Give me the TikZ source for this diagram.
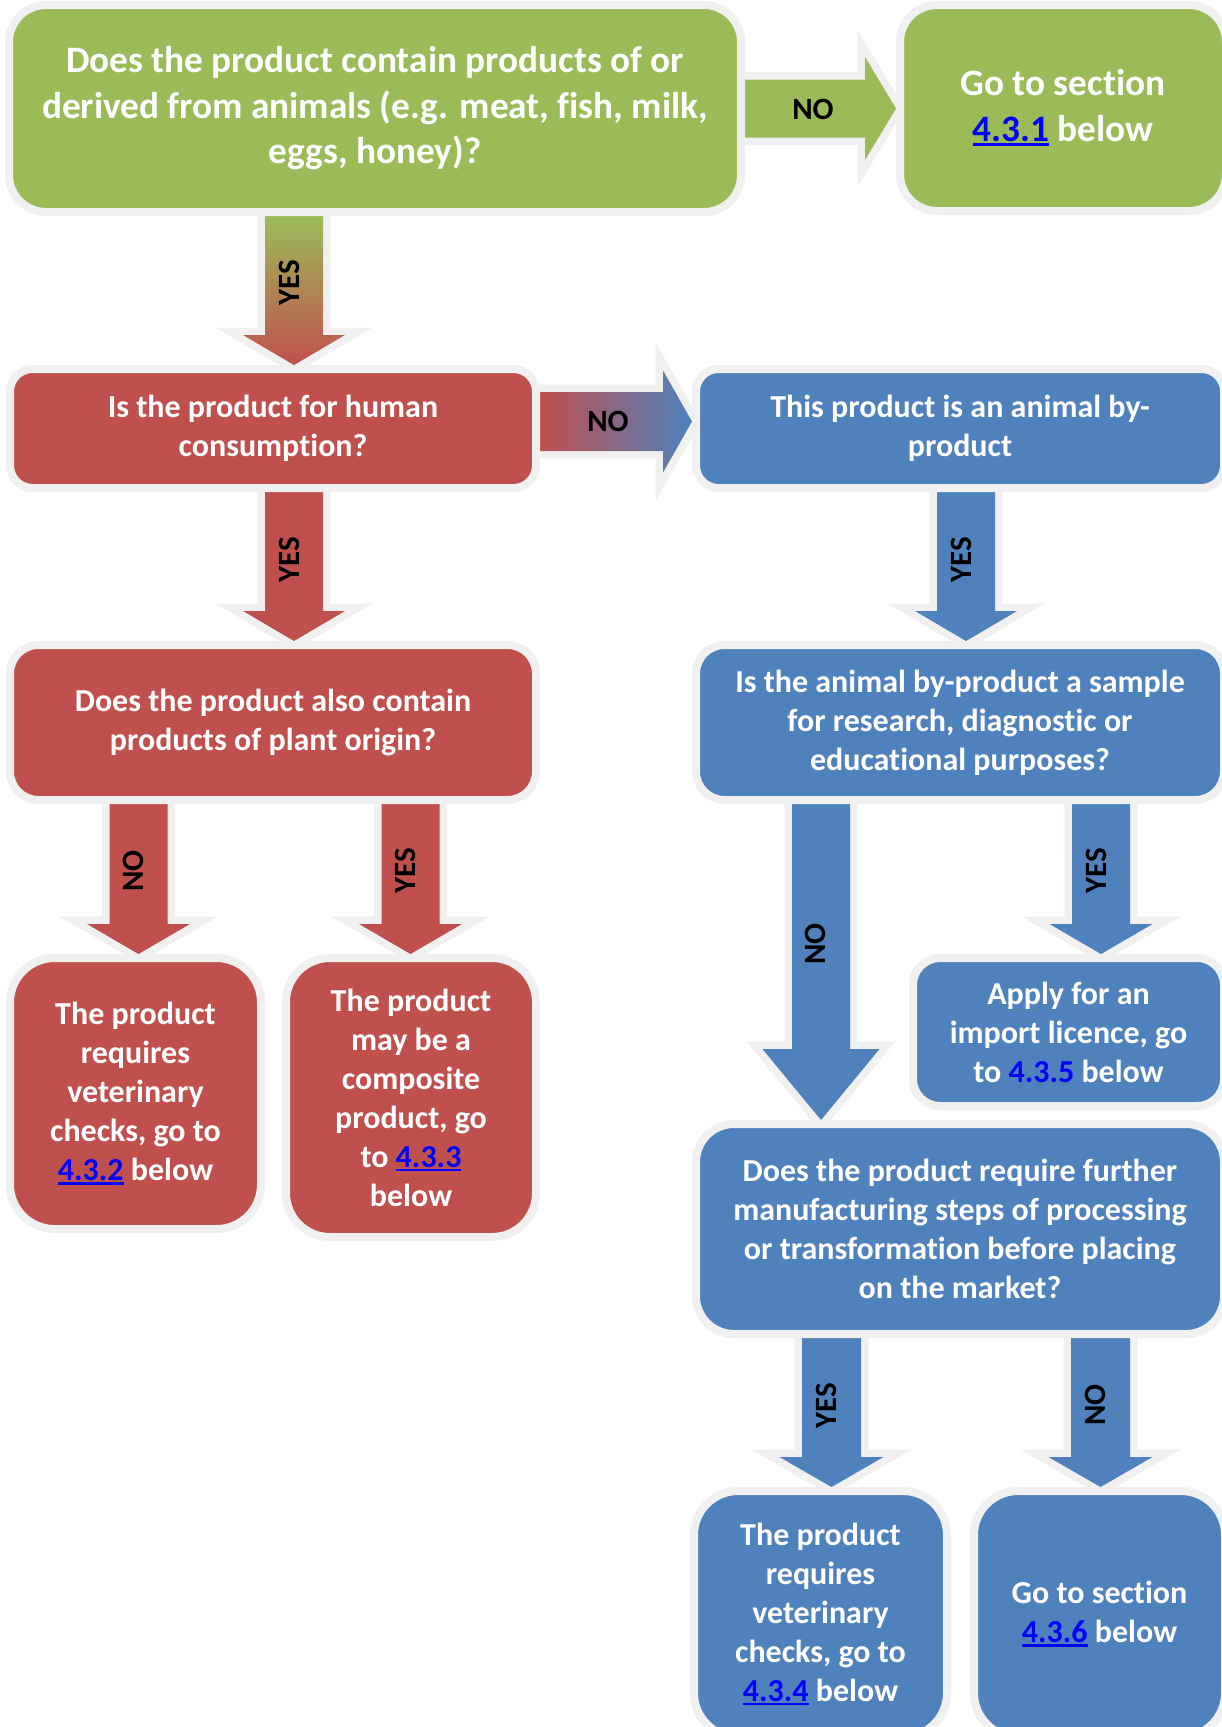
\documentclass[tikz,border=0pt]{standalone}
\usepackage{fontspec}
\setmainfont{Carlito}[Ligatures=NoCommon]
\usetikzlibrary{calc}
\definecolor{agreen}{HTML}{9BBB59}
\definecolor{ared}{HTML}{C0504D}
\definecolor{ablue}{HTML}{4F81BD}
\definecolor{halo}{HTML}{F0F0F0}
\definecolor{linkblue}{HTML}{0000FF}
\newcommand\lnk[1]{{\color{linkblue}\setbox0=\hbox{#1}\rlap{\rule[-0.13em]{\wd0}{0.08em}}\box0}}
\newcommand\bapaint[2]{\path[draw=halo,line width=15pt,line join=miter] #2; \path[#1] #2;}
\newcommand\blockarrow[6]{%
  \coordinate (bas) at (#2);
  \coordinate (bat) at (#3);
  \coordinate (babase) at ($(bat)!#6!(bas)$);
  \bapaint{#1}{($(bas)!#4!90:(bat)$) -- ($(babase)!#4!90:(bat)$) -- ($(babase)!#5!90:(bat)$) -- (bat) -- ($(babase)!#5!-90:(bat)$) -- ($(babase)!#4!-90:(bat)$) -- ($(bas)!#4!-90:(bat)$) -- cycle}}
\pgfdeclarelayer{bg}
\pgfsetlayers{bg,main}
\tikzset{
  box/.style={draw=halo, line width=8pt, align=center, text=white, inner sep=0pt,
    font=\bfseries\fontsize{32}{39}\selectfont},
  gbox/.style={box, fill=agreen, font=\bfseries\fontsize{37.3}{45.5}\selectfont},
  rbox/.style={box, fill=ared},
  bbox/.style={box, fill=ablue},
  lab/.style={font=\bfseries\fontsize{31}{36}\selectfont, text=black, inner sep=0pt},
  vlab/.style={lab, rotate=90}
}
\begin{document}
\begin{tikzpicture}[x=1pt,y=-1pt]
\useasboundingbox (0,0) rectangle (1222,1727);
\clip (0,0) rectangle (1222,1727);

% boxes
\node[gbox, minimum width=732pt, minimum height=207pt, rounded corners=37pt] (q1) at (375,108.5)
  {Does the product contain products of or\\derived from animals (e.g. meat, fish, milk,\\eggs, honey)?};
\node[gbox, minimum width=326pt, minimum height=206pt, rounded corners=37pt] (g431) at (1063,108)
  {Go to section\\\lnk{4.3.1} below};
\node[rbox, minimum width=526pt, minimum height=119pt, rounded corners=22.5pt] (q2) at (273,428.5)
  {Is the product for human\\consumption?};
\node[bbox, minimum width=528pt, minimum height=119pt, rounded corners=22.5pt] (bp) at (960,428.5)
  {This product is an animal by-\\product};
\node[rbox, minimum width=526pt, minimum height=155pt, rounded corners=28.5pt] (q3) at (273,722.5)
  {Does the product also contain\\products of plant origin?};
\node[bbox, minimum width=528pt, minimum height=155pt, rounded corners=28.5pt] (q4) at (960,722.5)
  {Is the animal by-product a sample\\for research, diagnostic or\\educational purposes?};
\node[rbox, minimum width=251pt, minimum height=271pt, rounded corners=44.5pt] (r7) at (135.5,1093.5)
  {The product\\requires\\veterinary\\checks, go to\\\lnk{4.3.2} below};
\node[rbox, minimum width=250pt, minimum height=279pt, rounded corners=44pt] (r8) at (411,1097.5)
  {The product\\may be a\\composite\\product, go\\to \lnk{4.3.3}\\below};
\node[bbox, minimum width=311pt, minimum height=148pt, rounded corners=27pt] (b9) at (1068.5,1032)
  {Apply for an\\import licence, go\\to \textcolor{linkblue}{4.3.5} below};
\node[bbox, minimum width=528pt, minimum height=210pt, rounded corners=38pt] (q5) at (960,1229)
  {Does the product require further\\manufacturing steps of processing\\or transformation before placing\\on the market?};
\node[bbox, minimum width=253pt, minimum height=246pt, rounded corners=44pt] (b11) at (820.5,1614)
  {The product\\requires\\veterinary\\checks, go to\\\lnk{4.3.4} below};
\node[bbox, minimum width=251pt, minimum height=246pt, rounded corners=44pt] (b12) at (1099.5,1614)
  {Go to section\\\lnk{4.3.6} below};

% block arrows
\begin{pgfonlayer}{bg}
\fill[white] (0,0) rectangle (1222,1727);
\blockarrow{fill=agreen}{q1.east}{q1.east -| g431.west}{29pt}{51.5pt}{31pt}
\blockarrow{top color=agreen,bottom color=ared}{294,0 |- q1.south}{294,0 |- q2.north}{29pt}{51pt}{30pt}
\blockarrow{left color=ared,right color=ablue}{q2.east |- 0,421.5}{bp.west |- 0,421.5}{29.5pt}{51pt}{29pt}
\blockarrow{fill=ared}{294,0 |- q2.south}{294,0 |- q3.north}{29pt}{51pt}{30pt}
\blockarrow{fill=ablue}{966,0 |- bp.south}{966,0 |- q4.north}{29pt}{51pt}{30pt}
\blockarrow{fill=ared}{138.5,0 |- q3.south}{138.5,0 |- r7.north}{29pt}{51.5pt}{30pt}
\blockarrow{fill=ared}{410.5,0 |- q3.south}{410.5,0 |- r8.north}{29pt}{51.5pt}{30pt}
\blockarrow{fill=ablue}{1101,0 |- q4.south}{1101,0 |- b9.north}{29pt}{51.5pt}{30pt}
\blockarrow{fill=ablue}{821,0 |- q4.south}{821,0 |- q5.north}{29pt}{58.5pt}{71pt}
\blockarrow{fill=ablue}{831.5,0 |- q5.south}{831.5,0 |- b11.north}{29.5pt}{52pt}{30pt}
\blockarrow{fill=ablue}{1100.5,0 |- q5.south}{1100.5,0 |- b12.north}{29.5pt}{52pt}{30pt}
\end{pgfonlayer}

% labels
\node[lab] (l0) at (813,109) {NO};
\node[vlab] (l1) at (289,283) {YES};
\node[lab] (l2) at (608,421.5) {NO};
\node[vlab] (l3) at (289,560) {YES};
\node[vlab] (l4) at (961,560) {YES};
\node[vlab] (l5) at (133.5,871) {NO};
\node[vlab] (l6) at (405.5,871) {YES};
\node[vlab] (l7) at (1096,871) {YES};
\node[vlab] (l8) at (815,944) {NO};
\node[vlab] (l9) at (826.5,1406) {YES};
\node[vlab] (l10) at (1095.5,1405) {NO};
\end{tikzpicture}
\end{document}
